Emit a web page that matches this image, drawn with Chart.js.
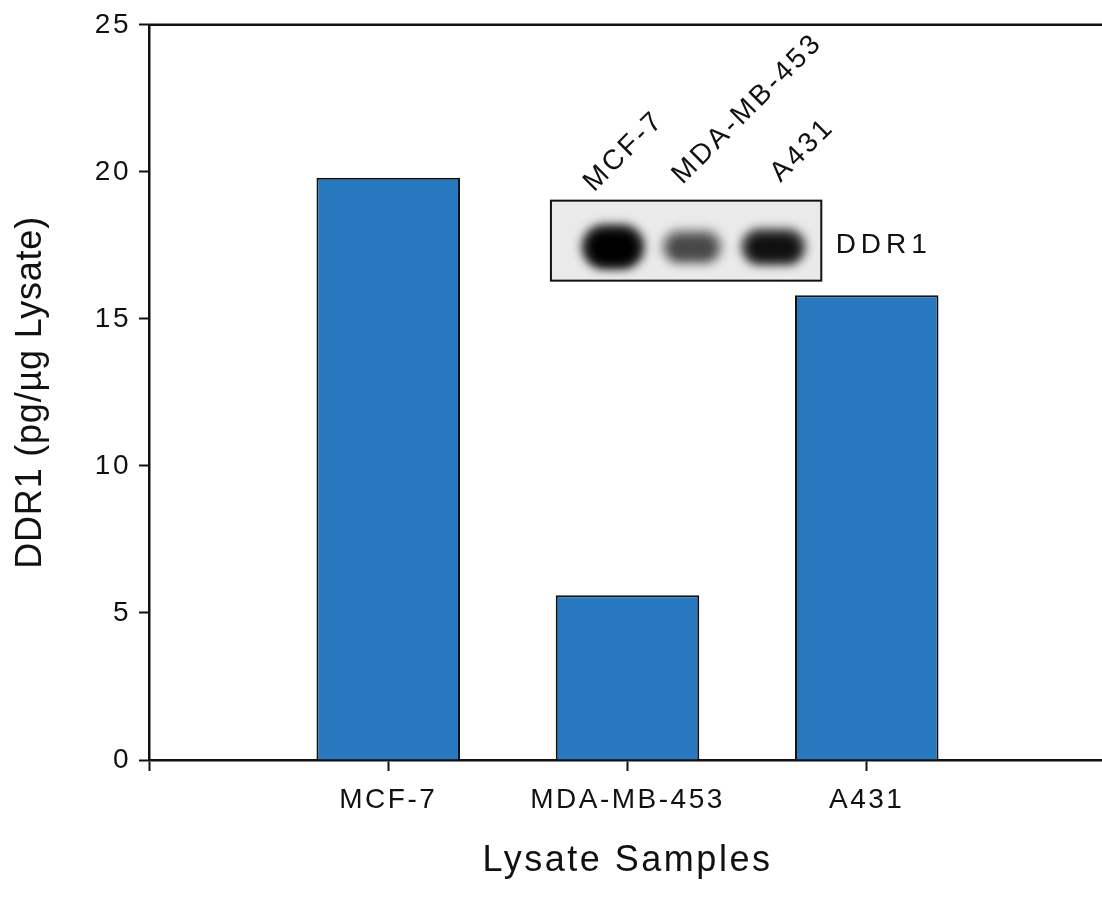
<!DOCTYPE html>
<html>
<head>
<meta charset="utf-8">
<title>DDR1 in lysates</title>
<script src="https://cdn.jsdelivr.net/npm/chart.js@4.4.1/dist/chart.umd.min.js"></script>
<style>
  html, body { margin: 0; background: #fff; overflow: hidden; }
  canvas { display: block; }
</style>
</head>
<body>
<!-- a little wider than the window: the frame runs off the right edge like the original -->
<canvas id="ddrChart" width="1106" height="905"></canvas>
<script>
// empty slots at both ends keep the frame as wide as in the original
const samples = ['', 'MCF-7', 'MDA-MB-453', 'A431', '']
const ddr1Values = [null, 19.8, 5.6, 15.8, null]
const yTicks = [0, 5, 10, 15, 20, 25]

// western blot inset
const blotLanes = ['MCF-7', 'MDA-MB-453', 'A431']
const blotIntensity = [1, 0.5, 0.82]
const blotLabel = 'DDR1'

const FONT = "'Liberation Sans', Arial, Helvetica, sans-serif"
const INK = '#111'

const spacingPlugin = {
  id: 'spacing',
  beforeUpdate(chart) { chart.ctx.letterSpacing = '2.5px' },
  beforeDraw(chart) { chart.ctx.letterSpacing = '2.5px' }
}

// top edge of the frame
const framePlugin = {
  id: 'frame',
  afterDraw(chart) {
    const { ctx, chartArea } = chart
    ctx.save()
    ctx.strokeStyle = INK
    ctx.lineWidth = 2.5
    ctx.beginPath()
    ctx.moveTo(chartArea.left - 1, chartArea.top)
    ctx.lineTo(chartArea.right, chartArea.top)
    ctx.stroke()
    ctx.restore()
  }
}

// blot picture, placed in data units so it follows the scales
const insetPlugin = {
  id: 'inset',
  afterDraw(chart) {
    const { ctx } = chart
    const x = chart.scales.x
    const y = chart.scales.y
    const left = x.getPixelForValue(1.68)
    const right = x.getPixelForValue(2.81)
    const top = y.getPixelForValue(19.02)
    const bottom = y.getPixelForValue(16.3)

    ctx.save()
    ctx.fillStyle = '#eaeaea'
    ctx.fillRect(left, top, right - left, bottom - top)

    ctx.save()
    ctx.beginPath()
    ctx.rect(left, top, right - left, bottom - top)
    ctx.clip()
    const centers = [1.94, 2.27, 2.61]
    const sizes = [[64, 46], [62, 36], [66, 38]]
    const bandY = y.getPixelForValue(17.45)
    blotIntensity.forEach((v, i) => {
      const cx = x.getPixelForValue(centers[i])
      const [w, h] = sizes[i]
      ctx.filter = 'blur(5px)'
      ctx.fillStyle = 'rgba(0,0,0,' + (v * 0.75) + ')'
      ctx.beginPath()
      ctx.roundRect(cx - w / 2, bandY - h / 2, w, h, h / 2)
      ctx.fill()
      ctx.filter = 'blur(4px)'
      ctx.fillStyle = 'rgba(0,0,0,' + v + ')'
      ctx.beginPath()
      ctx.roundRect(cx - w / 2 + 7, bandY - h / 2 + 7, w - 14, h - 12, (h - 12) / 2)
      ctx.fill()
    })
    ctx.restore()

    ctx.filter = 'none'
    ctx.strokeStyle = INK
    ctx.lineWidth = 2
    ctx.strokeRect(left, top, right - left, bottom - top)

    // lane labels
    ctx.fillStyle = INK
    ctx.font = '28px ' + FONT
    ctx.letterSpacing = '3px'
    ctx.textBaseline = 'alphabetic'
    ctx.textAlign = 'left'
    const anchors = [[1.86, 19.3], [2.23, 19.55], [2.64, 19.62]]
    blotLanes.forEach((lane, i) => {
      ctx.save()
      ctx.translate(x.getPixelForValue(anchors[i][0]), y.getPixelForValue(anchors[i][1]))
      ctx.rotate(-Math.PI / 4)
      ctx.fillText(lane, 0, 0)
      ctx.restore()
    })

    ctx.letterSpacing = '5px'
    ctx.textBaseline = 'middle'
    ctx.fillText(blotLabel, x.getPixelForValue(2.87), y.getPixelForValue(17.5))
    ctx.restore()
  }
}

const ctx = document.getElementById('ddrChart').getContext('2d')

new Chart(ctx, {
  type: 'bar',
  data: {
    labels: samples,
    datasets: [
      {
        label: 'DDR1',
        data: ddr1Values,
        backgroundColor: '#2878c0',
        borderColor: INK,
        borderWidth: 2,
        barPercentage: 0.6,
        categoryPercentage: 1
      }
    ]
  },
  options: {
    responsive: false,
    animation: false,
    layout: { padding: { top: 24, right: 0, left: 0, bottom: 0 } },
    plugins: {
      legend: { display: false },
      tooltip: { enabled: false }
    },
    scales: {
      x: {
        type: 'category',
        offset: false,
        grid: { offset: false, drawOnChartArea: false, tickLength: 11, tickWidth: 2, tickColor: INK },
        border: { color: INK, width: 2.5 },
        ticks: {
          color: INK,
          font: { family: FONT, size: 28 },
          padding: 12,
          maxRotation: 0,
          autoSkip: false
        },
        title: {
          display: true,
          text: 'Lysate Samples',
          color: INK,
          font: { family: FONT, size: 36 },
          padding: { top: 0, bottom: 22 }
        },
        afterFit(scale) {
          scale.height = 145
          scale.paddingLeft = 0
          scale.paddingRight = 0
        }
      },
      y: {
        min: 0,
        max: 25,
        afterBuildTicks(scale) { scale.ticks = yTicks.map((v) => ({ value: v })) },
        grid: { drawOnChartArea: false, tickLength: 10, tickWidth: 2, tickColor: INK },
        border: { color: INK, width: 2.5 },
        ticks: { color: INK, font: { family: FONT, size: 28 }, padding: 8 },
        title: {
          display: true,
          text: 'DDR1 (pg/µg Lysate)',
          color: INK,
          font: { family: FONT, size: 36 },
          padding: { top: 9, bottom: 0 }
        },
        afterFit(scale) {
          scale.width = 149
          // the y title is set a bit tighter than the rest of the text
          if (!scale._tightTitle) {
            const drawTitle = scale.drawTitle
            scale.drawTitle = function () {
              this.ctx.letterSpacing = '0.8px'
              drawTitle.call(this)
              this.ctx.letterSpacing = '2.5px'
            }
            scale._tightTitle = true
          }
        }
      }
    }
  },
  plugins: [spacingPlugin, framePlugin, insetPlugin]
})
</script>
</body>
</html>
